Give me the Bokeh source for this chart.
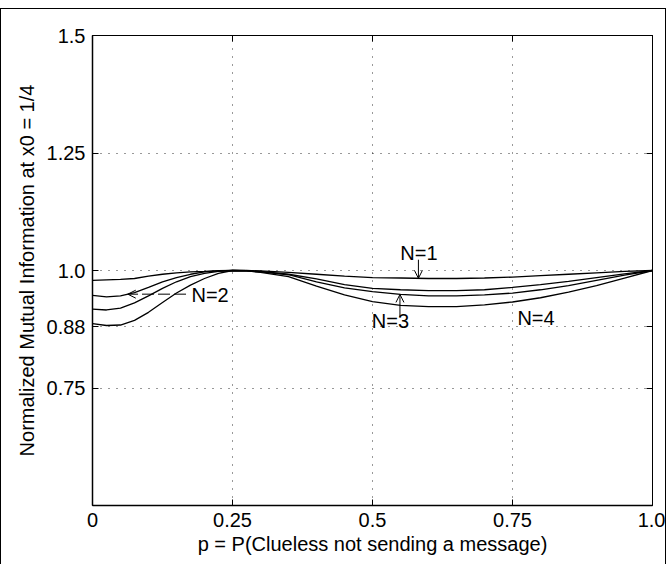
import numpy as np
from bokeh.plotting import figure
from bokeh.models import (Range1d, FixedTicker, LinearAxis, Label, Arrow, OpenHead)
from bokeh.embed import file_html
from bokeh.resources import INLINE

# ---------------- data ----------------
p_vals = [0, 0.025, 0.05, 0.075, 0.1, 0.125, 0.15, 0.175, 0.2, 0.225, 0.25, 0.275,
          0.3, 0.35, 0.4, 0.45, 0.5, 0.55, 0.6, 0.65, 0.7, 0.75, 0.8, 0.85, 0.9, 0.95, 1.0]
n1 = [0.979, 0.980, 0.981, 0.983, 0.988, 0.992, 0.995, 0.997, 0.998, 0.9995, 1.0, 1.0,
      0.999, 0.996, 0.992, 0.988, 0.985, 0.984, 0.983, 0.983, 0.984, 0.986, 0.989, 0.992,
      0.995, 0.998, 1.0]
n2 = [0.947, 0.944, 0.946, 0.953, 0.964, 0.976, 0.985, 0.992, 0.997, 0.999, 1.0, 0.9995,
      0.998, 0.992, 0.982, 0.970, 0.962, 0.959, 0.957, 0.957, 0.959, 0.964, 0.970, 0.977,
      0.985, 0.993, 1.0]
n3 = [0.918, 0.916, 0.920, 0.931, 0.946, 0.962, 0.976, 0.987, 0.994, 0.998, 1.0, 0.9995,
      0.997, 0.991, 0.976, 0.963, 0.955, 0.949, 0.946, 0.946, 0.948, 0.952, 0.959, 0.968,
      0.979, 0.990, 1.0]
n4 = [0.887, 0.883, 0.884, 0.894, 0.911, 0.932, 0.952, 0.969, 0.983, 0.994, 1.0, 0.999,
      0.996, 0.987, 0.967, 0.948, 0.934, 0.926, 0.923, 0.923, 0.927, 0.933, 0.942, 0.954,
      0.968, 0.984, 1.0]
series = [n1, n2, n3, n4]

x_ticks = [0, 0.25, 0.5, 0.75, 1.0]
x_tick_labels = ["0", "0.25", "0.5", "0.75", "1.0"]
y_ticks = [0.75, 0.88, 1.0, 1.25, 1.5]
y_tick_labels = ["0.75", "0.88", "1.0", "1.25", "1.5"]
x_grid = [0.25, 0.5, 0.75]
y_grid = [0.75, 0.88, 1.0, 1.25]

# annotation texts (position in data units)
ann_text = ["N=1", "N=2", "N=3", "N=4"]
ann_x = [0.583, 0.210, 0.532, 0.792]
ann_y = [1.038, 0.947, 0.893, 0.900]

FONT = "Liberation Sans"
FS = "20px"

p = figure(width=666, height=556, x_range=Range1d(0, 1), y_range=Range1d(0.5, 1.5),
           output_backend="svg", toolbar_location=None,
           min_border_left=91, min_border_right=15, min_border_top=26, min_border_bottom=60,
           x_axis_label="p = P(Clueless not sending a message)",
           y_axis_label="Normalized Mutual Information at x0 = 1/4",
           styles={"box-sizing": "border-box", "margin-top": "8px",
                   "border-top": "1.5px solid black", "border-left": "1.5px solid black",
                   "border-right": "1.5px solid black"})
p.background_fill_color = "white"
p.border_fill_color = "white"
p.outline_line_color = "black"
p.outline_line_width = 1

for ax, ticks, labels in ((p.xaxis[0], x_ticks, x_tick_labels), (p.yaxis[0], y_ticks, y_tick_labels)):
    ax.ticker = FixedTicker(ticks=ticks)
    ax.major_label_overrides = {t: l for t, l in zip(ticks, labels)}
    ax.major_tick_in = 6
    ax.major_tick_out = 0
    ax.minor_tick_line_color = None
    ax.axis_line_color = "black"
    ax.axis_line_width = 1.5
    ax.major_tick_line_color = "black"
    ax.major_label_text_font = FONT
    ax.major_label_text_font_size = FS
    ax.major_label_text_color = "black"
    ax.axis_label_text_font = FONT
    ax.axis_label_text_font_size = FS
    ax.axis_label_text_font_style = "normal"
    ax.axis_label_text_color = "black"

p.xaxis[0].major_label_standoff = 7
p.xaxis[0].axis_label_standoff = 3
p.yaxis[0].major_label_standoff = 7
p.yaxis[0].axis_label_standoff = 6

# box axes (ticks only)
for loc, ticks in (("right", y_ticks), ("above", x_ticks)):
    ax = LinearAxis(ticker=FixedTicker(ticks=ticks))
    ax.major_label_overrides = {t: "" for t in ticks}
    ax.major_tick_in = 6
    ax.major_tick_out = 0
    ax.minor_tick_line_color = None
    ax.axis_line_color = "black"
    ax.major_tick_line_color = "black"
    ax.major_label_text_font_size = "1px"
    ax.major_label_standoff = 0
    p.add_layout(ax, loc)

p.xgrid.ticker = FixedTicker(ticks=x_grid)
p.ygrid.ticker = FixedTicker(ticks=y_grid)
for g in (p.xgrid[0], p.ygrid[0]):
    g.grid_line_color = "black"
    g.grid_line_dash = "1 7"
    g.grid_line_width = 1
    g.grid_line_alpha = 0.8

for s in series:
    p.line(p_vals, s, line_color="black", line_width=1.3)

for t, x, y in zip(ann_text, ann_x, ann_y):
    p.add_layout(Label(x=x, y=y, text=t, text_font=FONT, text_font_size=FS,
                       text_align="center", text_baseline="middle", text_color="black"))

# arrows, tips placed on the curves
a1x = 0.582
p.add_layout(Arrow(end=OpenHead(size=8, line_width=1), x_start=a1x, y_start=1.023,
                   x_end=a1x, y_end=float(np.interp(a1x, p_vals, n1)), line_width=1))
a3x = 0.549
p.add_layout(Arrow(end=OpenHead(size=8, line_width=1), x_start=a3x, y_start=0.901,
                   x_end=a3x, y_end=float(np.interp(a3x, p_vals, n3)), line_width=1))
a2x = 0.063
a2y = float(np.interp(a2x, p_vals, n2))
p.add_layout(Arrow(end=OpenHead(size=8, line_width=1), x_start=0.167, y_start=a2y,
                   x_end=a2x, y_end=a2y, line_width=1, line_dash="12 4"))

open("out.html", "w").write(file_html(p, INLINE))
